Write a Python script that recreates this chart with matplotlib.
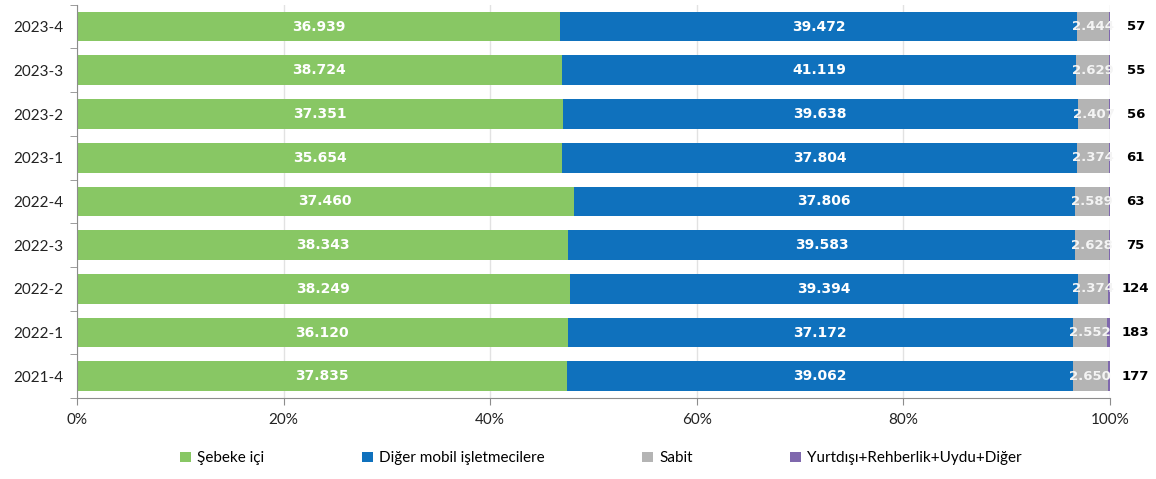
import numpy as np
import matplotlib.pyplot as plt
from matplotlib.ticker import FixedLocator, PercentFormatter

# data (bottom to top)
periods = ["2021-4", "2022-1", "2022-2", "2022-3", "2022-4",
           "2023-1", "2023-2", "2023-3", "2023-4"]
sebeke_ici = [37835, 36120, 38249, 38343, 37460, 35654, 37351, 38724, 36939]
diger_mobil = [39062, 37172, 39394, 39583, 37806, 37804, 39638, 41119, 39472]
sabit = [2650, 2552, 2374, 2628, 2589, 2374, 2407, 2629, 2444]
yurtdisi = [177, 183, 124, 75, 63, 61, 56, 55, 57]

series_names = ["Şebeke içi", "Diğer mobil işletmecilere", "Sabit",
                "Yurtdışı+Rehberlik+Uydu+Diğer"]
colors = ["#88c764", "#0f71bd", "#b4b4b4", "#7f68ad"]

def fmt(v):
    return f"{v:,}".replace(",", ".")

data = np.array([sebeke_ici, diger_mobil, sabit, yurtdisi], dtype=float)
totals = data.sum(axis=0)
shares = data / totals

fig = plt.figure(figsize=(11.56, 4.79), dpi=100)
ax = fig.add_axes([0.0666, 0.169, 0.8935, 0.821])

y = np.arange(len(periods))
left = np.zeros(len(periods))
for k in range(4):
    ax.barh(y, shares[k], left=left, height=0.68, color=colors[k],
            label=series_names[k], zorder=2)
    for i in range(len(periods)):
        val = fmt(int(data[k, i]))
        if k in (0, 1):
            ax.text(left[i] + shares[k, i] / 2, y[i], val, ha="center",
                    va="center", color="white", fontsize=10,
                    fontweight="bold", family="DejaVu Sans", zorder=3)
        elif k == 2:
            ax.text(left[i] + shares[k, i] / 2, y[i], val, ha="center",
                    va="center", color="#f4f4f4", fontsize=9.5,
                    fontweight="bold", family="DejaVu Sans", zorder=3)
        else:
            ax.text(1.025, y[i], val, ha="center", va="center",
                    color="black", fontsize=9.5, fontweight="bold",
                    family="DejaVu Sans", clip_on=False)
    left += shares[k]

ax.set_xlim(0, 1)
ax.set_ylim(-0.5, len(periods) - 0.5)
ax.set_xticks(np.linspace(0, 1, 6))
ax.xaxis.set_major_formatter(PercentFormatter(1.0, decimals=0))
ax.set_yticks(y)
ax.set_yticklabels(periods)
ax.yaxis.set_minor_locator(FixedLocator(np.arange(-0.5, len(periods), 1)))
ax.tick_params(axis="y", which="major", length=0, pad=10, labelsize=11)
ax.tick_params(axis="y", which="minor", length=5, color="#8c8c8c")
ax.tick_params(axis="x", length=5, color="#8c8c8c", labelsize=11, pad=6)
for lab in ax.get_xticklabels() + ax.get_yticklabels():
    lab.set_family("Lato")
    lab.set_color("#222222")

ax.grid(axis="x", color="#e2e2e2", linewidth=1, zorder=0)
ax.set_axisbelow(True)

ax.spines["top"].set_visible(False)
ax.spines["right"].set_visible(False)
ax.spines["left"].set_color("#8c8c8c")
ax.spines["bottom"].set_color("#8c8c8c")

leg = fig.legend(loc="lower center", bbox_to_anchor=(0.52, 0.0), ncol=4,
                 frameon=False, handlelength=0.7, handleheight=0.7,
                 handletextpad=0.4, columnspacing=6.4,
                 prop={"family": "Lato", "size": 11})

fig.savefig("out.png", dpi=100)
